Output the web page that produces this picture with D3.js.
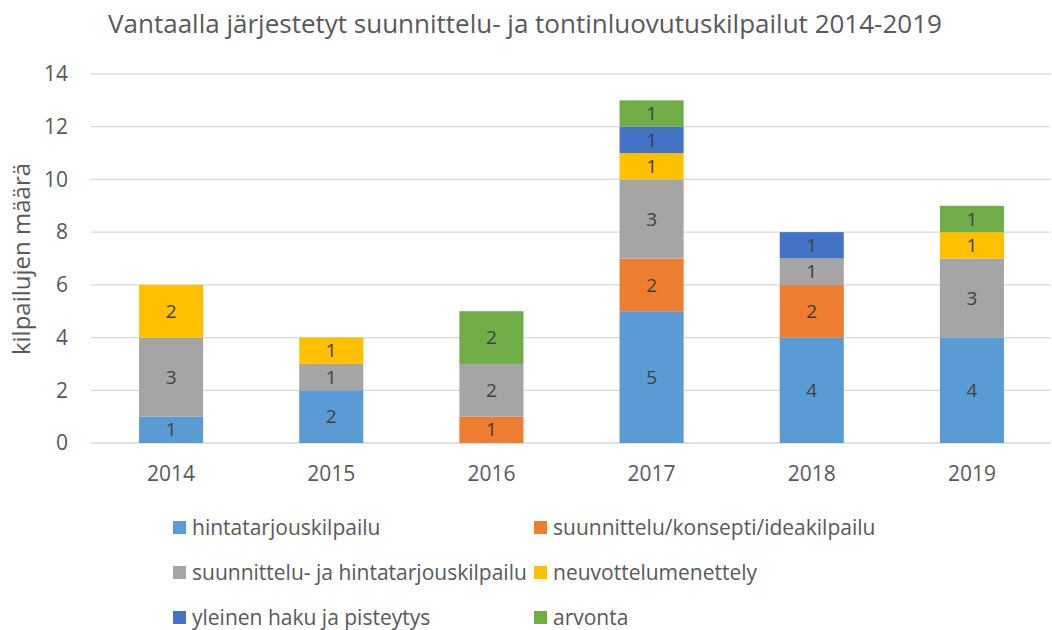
<!DOCTYPE html>
<meta charset="utf-8">
<style>
    body { margin: 0; background: #fff; }
    text { font-family: "Open Sans", sans-serif; fill: #595959; }
    .grid line { stroke: #d9d9d9; stroke-width: 1.3px; }
    .lbl { fill: #404040; font-size: 19px; }
</style>
<svg id="mainSVG" width="1052" height="630"></svg>
<script src="https://d3js.org/d3.v7.min.js"></script>
<script>
    var years = ["2014", "2015", "2016", "2017", "2018", "2019"];
    var seriesNames = ["hintatarjouskilpailu", "suunnittelu/konsepti/ideakilpailu",
        "suunnittelu- ja hintatarjouskilpailu", "neuvottelumenettely",
        "yleinen haku ja pisteytys", "arvonta"];
    var hinta     = [1, 2, 0, 5, 4, 4];
    var suunn     = [0, 0, 1, 2, 2, 0];
    var suunnHinta = [3, 1, 2, 3, 1, 3];
    var neuvottelu = [2, 1, 0, 1, 0, 1];
    var yleinen   = [0, 0, 0, 1, 1, 0];
    var arvonta   = [0, 0, 2, 1, 0, 1];
    var yTicks = [0, 2, 4, 6, 8, 10, 12, 14];
    var colors = ["#5b9bd5", "#ed7d31", "#a5a5a5", "#ffc000", "#4472c4", "#70ad47"];

    var svg = d3.select("svg");
    var plotLeft = 91, plotRight = 1052, plotTop = 74, plotBottom = 443;

    var table = years.map(function (y, i) {
        return { year: y, s0: hinta[i], s1: suunn[i], s2: suunnHinta[i],
                 s3: neuvottelu[i], s4: yleinen[i], s5: arvonta[i] };
    });
    var keys = ["s0", "s1", "s2", "s3", "s4", "s5"];
    var stacked = d3.stack().keys(keys)(table);

    var x = d3.scaleBand().domain(years).range([plotLeft, plotRight]).paddingInner(0.6).paddingOuter(0.3);
    var y = d3.scaleLinear().domain([0, 14]).range([plotBottom, plotTop]);

    // title
    svg.append("text")
        .attr("x", 525).attr("y", 33)
        .attr("text-anchor", "middle")
        .style("font-size", "26px")
        .text("Vantaalla järjestetyt suunnittelu- ja tontinluovutuskilpailut 2014-2019");

    // grid
    svg.append("g").attr("class", "grid")
        .selectAll("line").data(yTicks).enter().append("line")
        .attr("x1", plotLeft).attr("x2", plotRight - 2)
        .attr("y1", function (d) { return y(d); })
        .attr("y2", function (d) { return y(d); });

    // y axis
    var yAxis = svg.append("g")
        .attr("transform", "translate(" + (plotLeft - 13) + ",0)")
        .call(d3.axisLeft(y).tickValues(yTicks).tickSize(0).tickPadding(10));
    yAxis.select(".domain").remove();
    yAxis.selectAll("text").style("font-size", "21px").attr("fill", "#595959")
        .style("font-family", "'Open Sans', sans-serif");

    // x axis
    var xAxis = svg.append("g")
        .attr("transform", "translate(0," + plotBottom + ")")
        .call(d3.axisBottom(x).tickSize(0).tickPadding(23));
    xAxis.select(".domain").remove();
    xAxis.selectAll("text").style("font-size", "21px").attr("fill", "#595959")
        .style("font-family", "'Open Sans', sans-serif");

    // y label
    svg.append("text")
        .attr("transform", "translate(30,259) rotate(-90)")
        .attr("text-anchor", "middle")
        .style("font-size", "24px")
        .text("kilpailujen määrä");

    // bars
    var layer = svg.append("g").selectAll("g")
        .data(stacked).enter().append("g")
        .attr("fill", function (d, i) { return colors[i]; });

    layer.selectAll("rect")
        .data(function (d) { return d.filter(function (p) { return p[1] - p[0] > 0; }); })
        .enter().append("rect")
        .attr("x", function (d) { return x(d.data.year); })
        .attr("width", x.bandwidth())
        .attr("y", function (d) { return y(d[1]); })
        .attr("height", function (d) { return y(d[0]) - y(d[1]); });

    layer.selectAll("text")
        .data(function (d) { return d.filter(function (p) { return p[1] - p[0] > 0; }); })
        .enter().append("text")
        .attr("class", "lbl")
        .attr("x", function (d) { return x(d.data.year) + x.bandwidth() / 2; })
        .attr("y", function (d) { return (y(d[0]) + y(d[1])) / 2; })
        .attr("dy", "0.35em")
        .attr("text-anchor", "middle")
        .text(function (d) { return d[1] - d[0]; });

    // legend
    var legend = svg.append("g").selectAll("g")
        .data(seriesNames).enter().append("g")
        .attr("transform", function (d, i) {
            var col = i % 2, row = Math.floor(i / 2);
            return "translate(" + (col === 0 ? 173 : 534) + "," + (528 + row * 45) + ")";
        });
    legend.append("rect")
        .attr("x", 0).attr("y", -7).attr("width", 13).attr("height", 13)
        .attr("fill", function (d, i) { return colors[i]; });
    legend.append("text")
        .attr("x", 19).attr("dy", "0.35em")
        .style("font-size", "21px")
        .text(function (d) { return d; });
</script>
